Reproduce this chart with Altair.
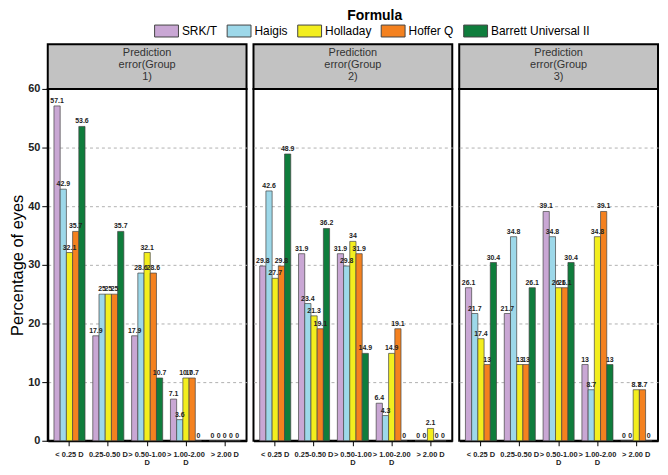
import altair as alt
import pandas as pd

categories = ["< 0.25 D", "0.25-0.50 D", "> 0.50-1.00 D", "> 1.00-2.00 D", "> 2.00 D"]
formulas = ["SRK/T", "Haigis", "Holladay", "Hoffer Q", "Barrett Universal II"]
colors = ["#c9a7d4", "#9dd8e9", "#f3ee1e", "#f4811f", "#0f7d3c"]
groups = ["1", "2", "3"]

# values per group, per formula (in category order)
g1_srkt = [57.1, 17.9, 17.9, 7.1, 0]
g1_haigis = [42.9, 25, 28.6, 3.6, 0]
g1_holladay = [32.1, 25, 32.1, 10.7, 0]
g1_hofferq = [35.7, 25, 28.6, 10.7, 0]
g1_barrett = [53.6, 35.7, 10.7, 0, 0]

g2_srkt = [29.8, 31.9, 31.9, 6.4, 0]
g2_haigis = [42.6, 23.4, 29.8, 4.3, 0]
g2_holladay = [27.7, 21.3, 34, 14.9, 2.1]
g2_hofferq = [29.8, 19.1, 31.9, 19.1, 0]
g2_barrett = [48.9, 36.2, 14.9, 0, 0]

g3_srkt = [26.1, 21.7, 39.1, 13, 0]
g3_haigis = [21.7, 34.8, 34.8, 8.7, 0]
g3_holladay = [17.4, 13, 26.1, 34.8, 8.7]
g3_hofferq = [13, 13, 26.1, 39.1, 8.7]
g3_barrett = [30.4, 26.1, 30.4, 13, 0]

group_series = {
    "1": [g1_srkt, g1_haigis, g1_holladay, g1_hofferq, g1_barrett],
    "2": [g2_srkt, g2_haigis, g2_holladay, g2_hofferq, g2_barrett],
    "3": [g3_srkt, g3_haigis, g3_holladay, g3_hofferq, g3_barrett],
}

rows = []
for g in groups:
    for f, vals in zip(formulas, group_series[g]):
        for c, v in zip(categories, vals):
            rows.append({"group": g, "formula": f, "category": c, "value": v})
df = pd.DataFrame(rows)

W = 200
H = 354
HEAD = 45

legend = alt.Legend(
    orient="none", legendX=113, legendY=-80, direction="horizontal",
    title="Formula", titleAnchor="middle", titleFontSize=14, titleFontWeight="bold",
    titleColor="black", titlePadding=1, labelFontSize=12, labelColor="black",
    symbolType="M-2,-1H2V1H-2Z", symbolSize=144, symbolStrokeColor="#444",
    symbolStrokeWidth=1, symbolOpacity=1, labelOffset=9, columnPadding=7,
)

label_expr = "length(datum.label) > 12 ? [slice(datum.label, 0, -2), 'D'] : datum.label"


def panel(i, g):
    d = df[df.group == g]
    if i == 0:
        yaxis = alt.Axis(
            title="Percentage of eyes", titleFontSize=16.5, titleFontWeight="normal",
            titleColor="black", titlePadding=2, labelFontSize=11, labelFontWeight="bold",
            labelColor="#222", values=[0, 10, 20, 30, 40, 50, 60], tickSize=6,
            tickColor="black", labelPadding=2, domainColor="black", domainWidth=2,
            grid=True, gridDash=[3, 3], gridColor="#b0b0b0",
        )
    else:
        yaxis = alt.Axis(
            title=None, labels=False, ticks=False, domain=False,
            values=[0, 10, 20, 30, 40, 50, 60],
            grid=True, gridDash=[3, 3], gridColor="#b0b0b0",
        )
    base = alt.Chart(d).encode(
        x=alt.X(
            "category:N", sort=categories,
            scale=alt.Scale(paddingInner=0.2, paddingOuter=0.16),
            axis=alt.Axis(
                title=None, labelAngle=0, labelExpr=label_expr, labelFontSize=7.5,
                labelFontWeight="bold", labelColor="#222", labelLineHeight=8,
                labelOverlap=False, labelBound=False, labelFlush=False, labelLimit=200,
                tickSize=5, tickColor="black", domainColor="black", domainWidth=2,
                labelPadding=5,
            ),
        ),
        xOffset=alt.XOffset("formula:N", sort=formulas,
                            scale=alt.Scale(paddingInner=0, paddingOuter=0)),
        y=alt.Y("value:Q", scale=alt.Scale(domain=[0, 60], nice=False), axis=yaxis),
    )
    bars = base.mark_bar(stroke="#444", strokeWidth=0.7).encode(
        color=alt.Color("formula:N", sort=formulas,
                        scale=alt.Scale(domain=formulas, range=colors), legend=legend)
    )
    labels = base.mark_text(dy=-5, fontSize=7, fontWeight="bold", color="#222").encode(
        text=alt.Text("value:Q", format="~g")
    )
    hd = pd.DataFrame({"t": [f"Prediction\nerror(Group\n{g})"]})
    head_rect = alt.Chart(hd).mark_rect(fill="#c2c2c2", stroke="black", strokeWidth=2).encode(
        x=alt.value(0), x2=alt.value(W), y=alt.value(-HEAD), y2=alt.value(0)
    )
    head_text = alt.Chart(hd).mark_text(
        lineBreak="\n", fontSize=11, lineHeight=12, color="#333", baseline="middle",
        align="center",
    ).encode(x=alt.value(W / 2), y=alt.value(-HEAD + 9), text="t:N")
    return alt.layer(head_rect, head_text, bars, labels).properties(width=W, height=H)


chart = alt.hconcat(*[panel(i, g) for i, g in enumerate(groups)], spacing=7, bounds="flush")
chart = chart.resolve_scale(color="shared").properties(
    padding={"left": 0, "top": 0, "right": 0, "bottom": 0}
).configure(font="Liberation Sans").configure_view(stroke="black", strokeWidth=2)

chart.save("out.html", embed_options={"renderer": "svg", "actions": False})
